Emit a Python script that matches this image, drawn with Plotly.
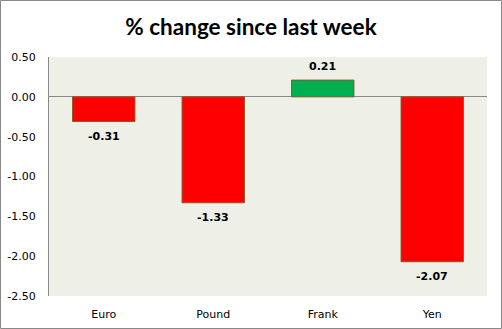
import plotly.graph_objects as go

categories = ["Euro", "Pound", "Frank", "Yen"]
values = [-0.31, -1.33, 0.21, -2.07]
bar_colors = ["#FF0000", "#FF0000", "#00B050", "#FF0000"]
tick_vals = [0.5, 0.0, -0.5, -1.0, -1.5, -2.0, -2.5]
tick_text = ["0.50", "0.00", "-0.50", "-1.00", "-1.50", "-2.00", "-2.50"]

W, H = 502, 329
L, R, T, B = 49, 15, 57, 33
pw, ph = W - L - R, H - T - B

fig = go.Figure()
fig.add_trace(go.Bar(
    x=categories, y=values,
    marker=dict(color=bar_colors, line=dict(color="#8B5A2B", width=1)),
    width=0.57,
))

for c, v in zip(categories, values):
    fig.add_annotation(x=c, y=v, text=f"<b>{v:.2f}</b>", showarrow=False,
                       yanchor="middle", yshift=14 if v >= 0 else -15,
                       font=dict(family="DejaVu Sans", size=11, color="black"))

fig.update_layout(
    width=W, height=H,
    margin=dict(l=L, r=R, t=T, b=B, autoexpand=False),
    paper_bgcolor="white",
    plot_bgcolor="#EEF0E8",
    showlegend=False,
    title=dict(text="<b>% change since last week</b>", x=0.5, xanchor="center",
               y=1 - 27 / H, yanchor="middle",
               font=dict(family="Lato", size=22.5, color="black")),
    xaxis=dict(showgrid=False, showline=False, ticks="", ticklabelstandoff=10,
               automargin=False,
               tickfont=dict(family="DejaVu Sans", size=11, color="black")),
    yaxis=dict(range=[-2.5, 0.5], tickvals=tick_vals, ticktext=tick_text,
               showgrid=False, showline=True, linecolor="#888888", linewidth=1,
               zeroline=True, zerolinecolor="#888888", zerolinewidth=1,
               ticks="", ticklen=0, ticklabelstandoff=10, automargin=False,
               tickfont=dict(family="DejaVu Sans", size=11, color="black")),
    shapes=[dict(type="rect", xref="paper", yref="paper",
                 x0=(0.5 - L) / pw, x1=(W - 0.5 - L) / pw,
                 y0=(H - B - (H - 0.5)) / ph, y1=(H - B - 0.5) / ph,
                 line=dict(color="#888888", width=1), fillcolor="rgba(0,0,0,0)",
                 layer="above")],
)
fig.write_html("out.html")
